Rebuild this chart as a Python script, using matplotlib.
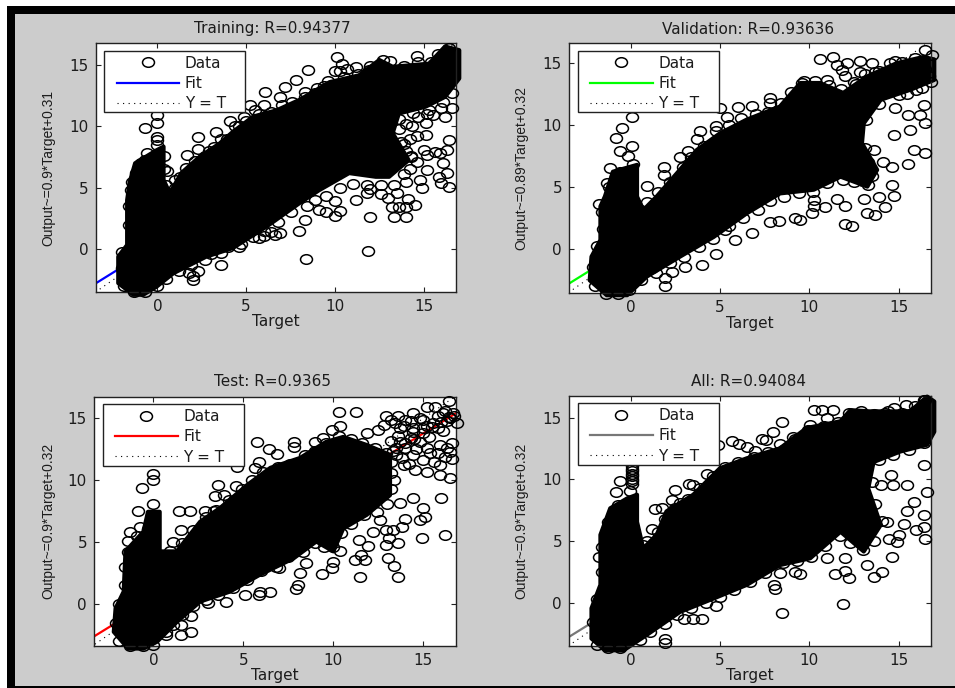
import matplotlib
matplotlib.use("Agg")
import matplotlib.pyplot as plt
from matplotlib.lines import Line2D
from matplotlib.patches import Rectangle
from matplotlib.path import Path
from matplotlib.transforms import Affine2D

W, H = 955, 688
titles = ["Training: R=0.94377", "Validation: R=0.93636", "Test: R=0.9365", "All: R=0.94084"]
ylabels = ["Output~=0.9*Target+0.31", "Output~=0.89*Target+0.32",
           "Output~=0.9*Target+0.32", "Output~=0.9*Target+0.32"]
fit_colors = ["#0000ff", "#00ff00", "#ff0000", "#777777"]
ticks = [0, 5, 10, 15]
fit_x = [-3.5, 16.8]
fit_ys = [[-2.8, 15.4], [-2.8, 15.3], [-2.8, 15.4], [-2.8, 15.4]]
ideal = [-3.5, 16.8]

# Outline of the region where overplotted circles merge into solid black
train_mass = [(-1.35,-3.7),(-2.2,-2.75),(-2.2,-0.6),(-1.7,0.35),(-1.7,4.0),(-1.55,5.5),(-1.25,7.0),(-0.05,8.05),(0.35,8.35),(0.35,5.65),(0.7,4.55),(1.35,6.2),(2.4,7.55),(3.5,8.6),(4.25,9.55),(5.4,10.8),(6.7,11.3),(8,12.15),(9.7,13.6),(11.35,14.15),(12.5,15.4),(13.25,14.85),(15.3,15.1),(16.2,16.5),(17,16.2),(17,13.9),(16.2,12.4),(15.1,11.6),(13.6,11.05),(13.25,9.45),(14.15,7.25),(13.05,5.9),(12.3,5.9),(10.8,6.2),(9.1,4.8),(8,3.75),(6.15,1.85),(4.25,0.1),(2.75,-0.6),(0.9,-1.95),(-0.05,-3.05),(-0.8,-3.7)]
val_mass = [(-1.35,-3.7),(-2.3,-2.5),(-2.2,-0.6),(-1.7,0.75),(-1.7,3.45),(-1.45,4.25),(-1,6.25),(0.35,6.8),(0.35,4.25),(0.7,3.15),(1.45,4.25),(2.6,6.15),(3.7,8),(5,9.35),(6.5,10.45),(8.35,11.5),(9.5,13.4),(10.6,13.4),(11.9,12.6),(13.2,13.9),(14.9,15),(16.4,15.5),(17,15.3),(17,13.65),(15.65,12.85),(14,12.05),(13.05,10.15),(12.95,8.55),(13.8,6.4),(13.25,5.05),(11.75,5.85),(10.25,4.8),(8.35,4.5),(6.5,2.9),(4.65,1),(2.75,-0.6),(0.9,-2.2),(-0.2,-3.7)]
test_mass = [(-1.4,-3.6),(-2.2,-2.25),(-2.1,-0.35),(-1.65,1),(-1.55,4.25),(-0.55,5.85),(-0.3,7.45),(0.35,7.45),(0.35,4.25),(1.3,4.25),(2.6,6.65),(3.7,7.75),(5.2,9.6),(6.5,11),(8.15,11.8),(9.6,13.1),(10.55,13.5),(11.85,12.85),(13.15,12.05),(13.15,8.8),(11.85,7.2),(10.55,6.1),(10,4.25),(9.05,5.05),(7.8,3.7),(5.9,2.35),(4.25,1),(2.6,0.2),(1.3,-1.45),(0.2,-3.05),(-0.55,-3.6)]
all_mass = [(-1.45,-3.85),(-2.2,-2.9),(-2.2,-0.45),(-1.7,1.45),(-1.7,5.5),(-1.15,7.65),(-0.2,8.45),(0.35,8.75),(0.35,6.55),(0.7,4.4),(1.45,5.5),(2,7.4),(3.5,8.75),(5,10.9),(6.5,11.7),(8.35,12.5),(9.85,14.15),(11.75,14.7),(12.3,15.6),(13.4,15.5),(15.65,15.5),(16.6,16.7),(17,16.3),(17,13.85),(16.6,12.8),(15.1,12.25),(13.6,11.4),(13.3,9.25),(14,6.3),(13.05,4.15),(11.75,5.75),(10.05,3.6),(8.35,3.05),(6.5,1.45),(4.65,0.35),(2.75,-0.75),(0.9,-2.6),(-0.4,-3.85)]

# Individually visible circles
train_pts = [(10.1,15.65),(10.4,15.1),(10.7,14.7),(8.47,14.6),(7.8,13.8),(7.2,13.2),(6.04,12.8),(6.9,12.4),(10,14.5),(10.3,14.5),(11.2,14.85),(11.9,14.6),(14.6,15.7),(8.3,12.8),(9,13.1),(9.4,13.3),(6,11.7),(5.2,11.7),(5.5,11.3),(4.9,10.8),(4.1,10.4),(4.6,10),(3.3,9.55),(2.3,9.1),(1.65,7.7),(2.3,8.2),(2.9,8),(3.6,9),(-0.7,9.85),(0,10.9),(0,10.25),(0,9.15),(0,8.9),(0,8.5),(-0.6,7.85),(-0.9,7),(-1.4,5.5),(0.55,6.4),(1,5.0),(1.3,5.9),
 (11.85,-0.13),(8.35,-0.8),(3.6,-1.3),(2,-2.5),(2,-2.2),(2.3,-1.8),(1.8,-1.9),(12,2.6),(13.3,2.65),(14,2.6),(13.6,3.4),(14,3.4),(13.2,3.4),(8,1.5),(8.3,2.4),(6.4,1.4),(6.6,1.2),(6.9,1.3),(6,1.1),(5.7,0.9),(4.7,0.4),(4,0.2),(3,-0.4),(10,2.7),(10.3,3.15),(10,3.9),(11.2,4),(9.1,3.2),(9.5,3),(11.8,4.6),(12,4.9),(12.6,4.5),(13,4.2),(13.5,4.6),(14.1,4.1),(14.5,3.6),(14.9,5),(14.8,5.6),(14,5.5),(16.4,5.1),(16,5.4),(15.85,5.9),(16.3,6.2),(15.2,6.45),(14.2,6.5),(14.6,7.1),(15.2,7.7),(16.1,7),(15.65,7.95),(16.3,8.1),(15.9,7.8),(15.1,9.3),(16.4,8.9),(14.35,10),(15.1,10.25),(16.2,10.8),(14.2,9),(13.7,8.7),(14.6,9.2),(15,8.1),(14,8),(14.3,7.6),(14,10.2),(14.7,10.8),(15.5,10.9),(16,11.5),(16.6,11.5),(15.2,11),(13.6,9.8),
 (1,5.6),(1.6,6.6),(2.1,7.2),(2.7,7.6),(3.2,8.3),(3.9,9),(4.4,10),(5,10.4),(5.7,11),(6.4,11.2),(7,11.7),(7.6,12),(8.3,12.4),(8.9,12.7),(9.6,13.7),(10.5,14),(11.3,14.3),(12,14.9),(12.7,15.4),(13.1,15.3),(13.9,14.9),(14.7,15.2),(15.4,15.2),(15.8,15.9),(16.4,16.4),
 (0.5,-2.4),(1.2,-1.8),(1.9,-1.3),(2.7,-0.9),(3.6,-0.3),(4.6,0.2),(5.4,1),(6,1.5),(6.8,2.2),(7.5,3),(8.4,3.5),(8.9,4),(9.5,4.3),(10.3,5),(11,5.3),(11.8,5.2),(12.6,5.2),(13.3,5.2),(13.9,6.1),(14.3,7.5),(13.9,8.6),(13.6,10.6),(14.4,11.1),(15.3,11.3),(16.1,12),(16.6,12.7),
 (-1.9,-3),(-1.3,-3.5),(-0.7,-3.5),(0,-3),(-2,-1.5),(-2,-0.2),(-1.6,2),(-1.6,3.5),(-1.5,4.8),(-1.2,6.2),(-0.7,7.3),(0.35,7.6),(0.4,6.5),(0.5,5.2)]
val_pts = [(10.6,15.3),(11.35,15.5),(11.55,14.85),(12.1,15),(12.85,15.2),(13.5,15),(12.85,14.3),(11.85,14.45),(13.7,14.3),(11,13.65),(14.8,15.2),(16.5,16.05),(16.9,15.65),(9.6,13.4),(7.8,12.2),(7.8,11.8),(6,11.5),(6.8,11.55),(5,11.35),(5.4,10.7),(4.8,9.95),(3.9,9.5),(3.7,8.85),(2.75,7.45),(3.2,7.9),(1.85,6.65),(1.85,6),(0.9,5.1),(-1.8,3.65),(-1.35,5.3),(-0.8,5.2),(-1.15,6.55),(-0.8,8.95),(-0.5,9.75),(0.05,10.65),(0.05,8.3),(-0.6,7.9),(-0.15,7.5),
 (14.75,9.2),(15.65,9.6),(16.4,11.65),(15.55,10.85),(14.8,11.35),(16.2,10.85),(16.5,10.15),(15.85,8),(16.5,7.75),(15.55,6.85),(14.15,7.05),(14.65,6.6),(14.65,5.2),(14.75,4.3),(13.9,4.2),(14.25,3.4),(13.05,4.05),(13.25,2.9),(13.7,2.75),(12,3.45),(11.55,4.05),(12,2.05),(12.4,1.85),(10.9,3.4),(10.25,4),(10.15,2.9),(10.25,3.45),(9.5,2.35),(9.2,2.5),(8.3,2.3),(7.8,2.2),(6.8,1.3),(5.85,0.75),(5.3,1.55),(4.8,-0.4),(4,-1.3),(3.05,-1.4),(2.3,-1.8),(1.9,-2.35),(1.9,-3),(13.4,6.35),(13.3,5.2),(13.6,8),(1.2,-1.5),
 (16.5,14.5),(16.8,13.5),(16.3,13),(15.5,12.5),(14.9,13),(13.5,12.5),(14.2,13.5),(13.8,13.9),(16,14.8),(15.3,14),(12.5,13.5),(12,14),
 (0.9,3.8),(1.5,4.6),(2.2,5.4),(2.9,6.6),(3.4,7.4),(4.1,8.3),(4.8,9.5),(5.5,10),(6.2,10.6),(7,10.9),(7.7,11.1),(8.4,11.8),(9,12.7),(9.7,13.6),(10.3,13.6),(11.1,13.2),(11.8,12.9),(12.6,13.3),(13.1,14.1),(13.9,14.4),(14.5,15),(15.2,15.1),(15.9,15.4),
 (0.6,-2.5),(1.4,-1.9),(2.2,-1.1),(3,-0.6),(3.8,0.2),(4.6,0.8),(5.5,1.9),(6.3,2.5),(7.1,3.2),(7.8,3.9),(8.6,4.2),(9.4,4.5),(10.2,4.6),(11,5.3),(11.9,5.6),(12.5,5.4),(13,5.5),(13.5,5.9),(13.3,7),(13.1,8.2),(13.2,10.4),(13.9,11.7),(15,12.4),(16,12.8),(16.7,14),
 (-2,-3),(-1.4,-3.6),(-0.7,-3.6),(-0.1,-3.3),(-2.1,-1.4),(-1.9,0.3),(-1.55,1.6),(-1.6,3),(-1.2,5),(-0.6,6.2),(0.1,6.9)]
test_pts = [(10.3,15.55),(11.25,15.55),(10.35,14.35),(9.9,14.05),(11.85,13.8),(12.5,14.05),(12.95,15.2),(12.8,14.5),(14.45,15.4),(15.2,15.95),(15.65,15.95),(16.4,16.4),(16.65,15.4),(16.1,15.4),(16.85,14.6),(14,14.9),(15,14.9),(13.4,14.6),(14.45,14.2),(15.55,14.6),(16.1,13.95),(13.7,13.1),(14.8,13.1),(15.9,12.85),(16.5,12.3),(13.5,12.05),(14.45,12.05),(15.35,12.2),(13.9,11.25),(14.55,10.85),(15.2,10.7),(15.9,10.45),(16.5,10.2),(15.9,11.25),(13.35,10),(16,8.6),
 (9.45,13.4),(9,13.1),(7.8,13.05),(7.8,12.7),(5.75,13.05),(6.45,12.55),(6.85,12.1),(5.85,11.5),(5.65,10.95),(4.65,11.1),(3.6,9.6),(4.6,9.5),(3.9,8.8),(3.45,8.7),(1.4,7.55),(2.05,7.55),(2.85,7.55),(3.35,7.55),(1.55,6),(1.1,5),(0,10.5),(0,10),(-0.65,9.35),(0,8.05),(-0.85,7.55),(0,7.2),(-1.3,5.85),(-0.75,6.25),(-1.4,5.05),(-0.9,4.75),(-0.3,6.1),
 (13.8,6.25),(14.45,8.55),(15,7.75),(15.1,7.05),(14.8,6.8),(14.9,5.3),(16.2,5.6),(13.7,8.2),(14,6.9),(12.95,6),(12.2,5.85),(11.4,5.15),(11.95,4.65),(11.55,3.95),(11.2,3.55),(11.75,3.55),(11.5,2.2),(13.05,3.75),(13.35,3.05),(13.6,2.15),(12.95,4.75),(13.6,4.9),(10.35,4.25),(10,3.4),(9.9,2.9),(9.35,2.4),(8.5,3.3),(8.15,2.5),(8.05,1.55),(7.95,1.2),(6.5,1),(5.9,1),(5.85,0.75),(5.1,0.75),(4.05,0.15),(3.05,0.05),(2.1,-1),(2.1,-2.3),(1.55,-1.7),(1.55,-2.5),(0.7,-2.5),(7,2.9),
 (0.9,4.3),(1.6,4.9),(2.2,6),(2.9,7),(3.5,7.6),(4.2,8.4),(4.9,9.3),(5.5,10),(6.1,10.7),(6.9,11.1),(7.6,11.3),(8.4,12),(9,12.4),(9.6,13),(10.3,13.6),(11,13.3),(11.6,13),(12.3,12.6),(12.9,12.2),
 (0.7,-2.3),(1.1,-1.7),(1.6,-0.9),(2.2,-0.2),(2.9,0.3),(3.6,0.7),(4.4,1.3),(5.2,1.9),(6,2.7),(6.8,3),(7.5,3.8),(8.3,4.2),(9,4.9),(9.5,4.6),(10,4.6),(10.4,5.7),(11,6.5),(11.7,7.2),(12.4,7.4),(13,8.1),(13.2,9.3),(13.2,10.6),(13.2,11.5),(12.6,6.8),(13.3,6),(13.1,5.3),
 (-1.9,-3),(-1.3,-3.4),(-0.6,-3.4),(0,-3.3),(-2.1,-1.5),(-1.9,0),(-1.55,1.5),(-1.55,3),(-1.4,4.2),(-0.9,5.5),
 (13.2,14.9),(13.6,15.2),(13.9,14.4),(14.3,14.8),(14.8,15),(15.2,14.4),(15.8,15.2),(16.3,14.8),(16.5,15),(16.7,15.2),(16.2,15.6),(15.8,14.2),(15.3,13.5),(14.3,13.4),(13.6,13.6),(13.2,13.2),(14,12.6),(14.6,12.5),(15.2,12.6),(15.8,12.2),(16.3,12.6),(16.6,13),(13.3,12.4),(13.8,11.8),(14.2,11.3),(15,11.6),(15.6,11.5),(16.2,11.9),(16.6,11.7),(14.4,13.9),(15,14.2),(13.7,14.2),
 (13.5,12.6),(14,13),(14.5,13.3),(15,13.8),(15.5,14.3),(16,14.7),(16.4,15.1)]
all_pts = [(8.45,14.6),(7.95,13.8),(7.35,13.25),(7.6,13.2),(5.65,13.1),(6.05,12.85),(6.5,12.65),(6.95,12.3),(8.35,12.85),(4.9,12.8),(10.25,15.6),(10.7,15.65),(11.35,15.65),(10.05,14.4),(11,14.95),(14.75,15.8),(15.4,16),(14.25,15.35),(16.5,16.45),(9.1,13.45),
 (4.25,10.4),(3.5,9.55),(3.25,9.6),(2.45,9.15),(2.3,8.35),(1.35,7.6),(1.75,7.7),(2.75,8.05),(1.2,6),(0.7,4.7),(-1.8,3.7),(-0.6,9.85),(-0.8,9),(-0.05,9.05),
 (0.05,9.6),(0.05,9.85),(0.05,10.05),(0.05,10.25),(0.05,10.45),(0.05,10.65),(0.05,10.85),(0.05,11.05),
 (11.9,-0.1),(8.45,-0.8),(4.8,-0.3),(4,-1.3),(3.5,-1.3),(3,-1.3),(1.9,-3.3),(1.9,-2.9),(11.45,2.3),(12,2.55),(12.2,2),(13.6,2.1),(14.05,2.5),(8,1.45),(8.1,1.15),(8.35,2.4),(9.5,2.3),(9.2,2.5),(11,3.6),(12,3.6),(13.25,3.05),(14.65,3.7),(14.9,4.95),(15,5.5),(14.45,5.2),(15.3,6.4),(16.4,6.15),(16.5,5.2),(16,5.9),(16.6,9),(15.85,8.2),(16.4,7.1),(15.5,7.4),(14.35,6.55),(14.7,9.55),(14,9.55),(15.5,9.55),(16.4,11.15),(14.55,10.35),
 (0.9,5),(1.5,5.7),(1.9,6.8),(2.5,7.7),(3.2,8.4),(3.9,9.3),(4.6,10.3),(5.3,11),(6,11.4),(6.9,11.8),(7.7,12.2),(8.5,12.4),(9.2,13.3),(9.9,14),(10.8,14.3),(11.6,14.6),(12.2,15.4),(12.9,15.5),(13.6,15.3),(14.4,15.5),(15.2,15.4),(15.9,15.9),(16.4,16.4),
 (0.5,-3),(1.1,-2.4),(1.9,-1.7),(2.6,-1),(3.4,-0.4),(4.2,0),(5,0.5),(5.8,1),(6.7,1.7),(7.5,2.4),(8.5,3.2),(9.3,3.4),(10.1,3.7),(10.9,4.6),(11.7,5.4),(12.3,4.8),(13,4.3),(13.6,5),(14.1,6.6),(13.7,8),(13.5,9.8),(13.9,11.6),(14.7,12),(15.6,12.4),(16.4,12.9),
 (-1.9,-3.4),(-1.3,-3.7),(-0.6,-3.7),(-2.1,-1.6),(-1.9,0.3),(-1.6,2.5),(-1.6,4.5),(-1.3,6.5),(-0.7,7.9)]

masses = [train_mass, val_mass, test_mass, all_mass]
points = [train_pts, val_pts, test_pts, all_pts]

# Panel frames in reference pixels: left, top, right, bottom
boxes = [(95.7, 43.3, 455.7, 292.3), (569, 43.3, 930.7, 293.3),
         (94, 396.7, 455.7, 645.7), (569, 395.7, 930.7, 645.7)]
xlims = [(-3.47, 16.8), (-3.46, 16.8), (-3.3, 16.8), (-3.46, 16.8)]
ylims = [(-3.5, 16.76), (-3.55, 16.6), (-3.37, 16.75), (-3.48, 16.77)]
ylabel_x = [48, 521.7, 48, 521.7]
title_y = [29, 29, 381.7, 381.7]
xlabel_y = [322, 323, 675.7, 675.7]
title_x = [272, 748, 273, 748]

ink = "#1c1c1c"
circle = Path.unit_circle().transformed(Affine2D().scale(1.0, 0.8))
marker_kw = dict(marker=circle, markersize=8.6, mfc="none", mec="black", mew=1.1, ls="none")

fig = plt.figure(figsize=(W / 100, H / 100), dpi=100, facecolor="white")
fig.add_artist(Rectangle((6.5 / W, 0), 1, 1 - 6 / H, transform=fig.transFigure, fc="black", ec="none", zorder=-3))
fig.add_artist(Rectangle((15 / W, 2 / H), 1, 1 - 16 / H, transform=fig.transFigure, fc="#cccccc", ec="none", zorder=-2))

for i in range(4):
    l, t, r, b = boxes[i]
    pw, ph = r - l, b - t
    ax = fig.add_axes([l / W, 1 - b / H, pw / W, ph / H], facecolor="white")
    ax.plot(fit_x, fit_ys[i], color=fit_colors[i], lw=1.6, zorder=1)
    ax.plot(ideal, ideal, color="black", ls=(0, (1, 4)), lw=0.8, zorder=1)
    ax.fill([p[0] for p in masses[i]], [p[1] for p in masses[i]], fc="black", ec="black", lw=3,
            joinstyle="round", zorder=2, clip_on=False)
    ax.plot([p[0] for p in points[i]], [p[1] for p in points[i]], zorder=3, clip_on=False, **marker_kw)
    ax.set_xlim(xlims[i])
    ax.set_ylim(ylims[i])
    ax.set_xticks(ticks)
    ax.set_yticks(ticks)
    ax.tick_params(direction="in", top=True, right=True, length=3.5, width=0.8, color="#222222",
                   labelsize=11, labelcolor=ink, pad=5)
    for s in ax.spines.values():
        s.set_linewidth(1.0)
        s.set_color("#222222")
    # legend frame drawn separately so its size can follow the reference exactly
    ax.add_patch(Rectangle((8.6 / pw, 1 - (7.4 + 61.6) / ph), 141 / pw, 61.6 / ph, transform=ax.transAxes,
                           fc="white", ec="#222222", lw=1.0, zorder=9, clip_on=False))
    handles = [Line2D([], [], **marker_kw),
               Line2D([], [], color=fit_colors[i], lw=1.6),
               Line2D([], [], color="black", ls=(0, (1, 4)), lw=0.8)]
    leg = ax.legend(handles, ["Data", "Fit", "Y = T"], loc="upper left",
                    bbox_to_anchor=(16 / pw, 1 - 7.4 / ph), borderaxespad=0, frameon=False,
                    fontsize=11, handlelength=4.1, handletextpad=0.37, borderpad=0.32, labelspacing=0.35,
                    labelcolor=ink)
    leg.set_zorder(10)
    fig.text(title_x[i] / W, 1 - title_y[i] / H, titles[i], ha="center", va="center", fontsize=11, color=ink)
    fig.text((l + r) / 2 / W, 1 - xlabel_y[i] / H, "Target", ha="center", va="center", fontsize=11, color=ink)
    fig.text(ylabel_x[i] / W, 1 - (t + b) / 2 / H, ylabels[i], rotation=90, ha="center", va="center",
             fontsize=10, family="Liberation Sans", color=ink)

fig.savefig("out.png", dpi=100, facecolor=fig.get_facecolor())
